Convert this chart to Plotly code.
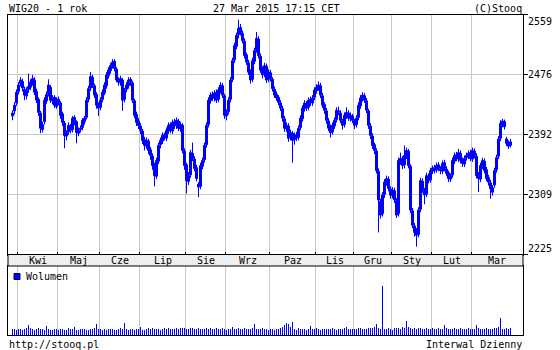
import pandas as pd
import plotly.graph_objects as go

# ---------------- data ----------------
holidays = ["2014-04-18", "2014-04-21", "2014-05-01", "2014-06-19", "2014-08-15",
            "2014-11-11", "2014-12-24", "2014-12-25", "2014-12-26", "2014-12-31",
            "2015-01-01", "2015-01-06"]
month_labels = ["Kwi", "Maj", "Cze", "Lip", "Sie", "Wrz", "Paz", "Lis", "Gru", "Sty", "Lut", "Mar"]
y_tick_vals = [2225.2, 2308.7, 2392.2, 2475.7, 2559.2]
y_tick_text = ["2225", "2309", "2392", "2476", "2559"]

opens = [
    2418, 2425, 2436, 2452, 2463, 2466, 2455, 2446, 2455, 2458, 2464,
    2468, 2452, 2441, 2422, 2399, 2410, 2439, 2449, 2458, 2439,
    2444, 2431, 2441, 2436, 2421, 2408, 2390, 2396, 2404, 2399,
    2416, 2410, 2394, 2399, 2402, 2410, 2416, 2441, 2457, 2472,
    2460, 2448, 2434, 2430, 2441, 2450, 2460, 2474, 2481, 2487,
    2494, 2483, 2469, 2464, 2468, 2441, 2455, 2460, 2469, 2464,
    2439, 2420, 2411, 2404, 2397, 2385, 2376, 2383, 2371, 2362,
    2350, 2334, 2355, 2378, 2383, 2392, 2387, 2397, 2406, 2397,
    2410, 2404, 2411, 2400, 2405, 2369, 2350, 2327, 2336, 2366,
    2358, 2346, 2323, 2320, 2348, 2357, 2378, 2406, 2439, 2448,
    2442, 2451, 2441, 2453, 2460, 2446, 2418, 2424, 2441, 2469,
    2496, 2515, 2531, 2541, 2533, 2522, 2503, 2492, 2480, 2469,
    2494, 2510, 2525, 2501, 2483, 2476, 2487, 2469, 2478, 2469,
    2455, 2448, 2444, 2436, 2428, 2414, 2400, 2404, 2388, 2394,
    2385, 2392, 2388, 2402, 2414, 2428, 2435, 2430, 2441, 2436,
    2444, 2453, 2457, 2460, 2446, 2434, 2425, 2411, 2402, 2396,
    2404, 2413, 2425, 2422, 2411, 2406, 2418, 2422, 2414, 2418,
    2411, 2406, 2416, 2432, 2442, 2446, 2439, 2425, 2404, 2390,
    2378, 2369, 2341, 2299, 2282, 2309, 2325, 2330, 2316, 2307,
    2314, 2300, 2282, 2355, 2358, 2350, 2362, 2369, 2348, 2286,
    2265, 2257, 2253, 2288, 2327, 2314, 2309, 2334, 2329, 2341,
    2346, 2343, 2350, 2344, 2341, 2353, 2344, 2339, 2330, 2336,
    2355, 2364, 2358, 2366, 2357, 2351, 2360, 2362, 2367, 2358,
    2369, 2362, 2336, 2330, 2348, 2355, 2343, 2332, 2325, 2318,
    2322, 2343, 2362, 2387, 2407, 2410, 2386, 2381, 2377,
]
highs = [
    2426, 2437, 2455, 2465, 2472, 2470, 2459, 2458, 2477, 2469, 2475,
    2472, 2456, 2444, 2425, 2410, 2444, 2452, 2469, 2461, 2447,
    2447, 2444, 2445, 2439, 2424, 2411, 2398, 2409, 2407, 2418,
    2419, 2412, 2402, 2405, 2415, 2418, 2444, 2460, 2479, 2475,
    2463, 2451, 2437, 2444, 2455, 2465, 2479, 2486, 2492, 2497,
    2497, 2486, 2472, 2474, 2471, 2457, 2465, 2472, 2472, 2467,
    2442, 2424, 2415, 2408, 2400, 2389, 2388, 2386, 2375, 2366,
    2353, 2360, 2381, 2388, 2395, 2395, 2402, 2409, 2409, 2413,
    2414, 2416, 2414, 2410, 2408, 2373, 2353, 2340, 2371, 2381,
    2362, 2350, 2326, 2353, 2360, 2381, 2409, 2444, 2451, 2452,
    2454, 2455, 2458, 2465, 2464, 2449, 2427, 2444, 2472, 2499,
    2520, 2534, 2552, 2546, 2537, 2526, 2506, 2496, 2483, 2499,
    2513, 2535, 2529, 2505, 2487, 2492, 2491, 2483, 2482, 2472,
    2459, 2452, 2447, 2440, 2432, 2418, 2409, 2408, 2399, 2397,
    2395, 2396, 2405, 2419, 2433, 2440, 2439, 2444, 2445, 2447,
    2458, 2462, 2466, 2464, 2450, 2437, 2429, 2415, 2406, 2409,
    2416, 2430, 2431, 2426, 2414, 2423, 2430, 2426, 2423, 2421,
    2414, 2419, 2437, 2447, 2451, 2450, 2443, 2428, 2408, 2394,
    2381, 2373, 2345, 2303, 2312, 2330, 2335, 2334, 2320, 2319,
    2318, 2304, 2360, 2367, 2362, 2377, 2374, 2372, 2351, 2290,
    2269, 2262, 2291, 2332, 2331, 2318, 2339, 2338, 2346, 2349,
    2350, 2353, 2354, 2348, 2356, 2357, 2348, 2342, 2338, 2360,
    2367, 2368, 2372, 2370, 2360, 2363, 2367, 2370, 2371, 2374,
    2373, 2366, 2340, 2353, 2360, 2359, 2347, 2336, 2329, 2322,
    2346, 2364, 2390, 2412, 2414, 2413, 2389, 2384, 2386,
]
lows = [
    2412, 2420, 2432, 2448, 2459, 2452, 2440, 2441, 2450, 2454, 2460,
    2447, 2436, 2418, 2394, 2395, 2406, 2435, 2445, 2436, 2434,
    2429, 2428, 2433, 2414, 2404, 2373, 2384, 2392, 2394, 2395,
    2405, 2380, 2390, 2395, 2398, 2406, 2413, 2437, 2453, 2457,
    2443, 2428, 2418, 2426, 2437, 2447, 2456, 2470, 2477, 2484,
    2480, 2465, 2460, 2460, 2425, 2437, 2451, 2456, 2460, 2436,
    2415, 2404, 2400, 2393, 2379, 2370, 2372, 2365, 2357, 2343,
    2320, 2330, 2351, 2373, 2379, 2384, 2383, 2393, 2394, 2393,
    2400, 2400, 2397, 2396, 2366, 2343, 2310, 2322, 2332, 2355,
    2341, 2327, 2305, 2316, 2344, 2353, 2374, 2402, 2435, 2439,
    2438, 2436, 2437, 2449, 2443, 2414, 2412, 2420, 2437, 2465,
    2492, 2511, 2526, 2530, 2519, 2498, 2489, 2475, 2463, 2465,
    2490, 2506, 2498, 2478, 2470, 2472, 2464, 2465, 2466, 2452,
    2443, 2439, 2433, 2425, 2410, 2396, 2396, 2382, 2384, 2353,
    2378, 2383, 2384, 2398, 2410, 2424, 2425, 2426, 2432, 2432,
    2440, 2449, 2453, 2443, 2429, 2421, 2407, 2397, 2388, 2392,
    2400, 2409, 2419, 2408, 2399, 2402, 2414, 2411, 2410, 2408,
    2400, 2402, 2412, 2428, 2438, 2436, 2422, 2400, 2386, 2372,
    2365, 2338, 2256, 2275, 2278, 2304, 2321, 2313, 2303, 2303,
    2297, 2276, 2278, 2350, 2344, 2345, 2358, 2345, 2283, 2262,
    2250, 2236, 2249, 2284, 2311, 2295, 2305, 2324, 2325, 2337,
    2338, 2339, 2341, 2337, 2337, 2341, 2334, 2326, 2326, 2332,
    2351, 2355, 2354, 2352, 2347, 2347, 2356, 2358, 2355, 2354,
    2359, 2331, 2312, 2326, 2344, 2338, 2327, 2321, 2303, 2307,
    2318, 2339, 2358, 2383, 2402, 2399, 2376, 2372, 2374,
]
closes = [
    2422, 2433, 2451, 2461, 2468, 2457, 2447, 2454, 2459, 2465, 2470,
    2451, 2440, 2423, 2401, 2406, 2440, 2448, 2461, 2440, 2443,
    2433, 2440, 2437, 2419, 2409, 2391, 2395, 2405, 2398, 2415,
    2409, 2395, 2398, 2401, 2412, 2415, 2440, 2456, 2473, 2461,
    2447, 2433, 2429, 2440, 2451, 2461, 2475, 2482, 2488, 2493,
    2484, 2468, 2465, 2470, 2440, 2454, 2461, 2468, 2465, 2440,
    2419, 2409, 2405, 2398, 2384, 2377, 2384, 2370, 2363, 2349,
    2335, 2356, 2377, 2384, 2391, 2388, 2398, 2405, 2398, 2409,
    2405, 2412, 2401, 2406, 2370, 2349, 2328, 2335, 2367, 2359,
    2345, 2331, 2319, 2349, 2356, 2377, 2405, 2440, 2447, 2443,
    2450, 2440, 2454, 2461, 2447, 2419, 2423, 2440, 2468, 2495,
    2516, 2530, 2540, 2534, 2523, 2502, 2493, 2479, 2468, 2495,
    2509, 2526, 2502, 2482, 2475, 2488, 2468, 2479, 2470, 2456,
    2447, 2443, 2437, 2429, 2415, 2401, 2405, 2387, 2395, 2384,
    2391, 2387, 2401, 2415, 2429, 2436, 2429, 2440, 2437, 2443,
    2454, 2458, 2461, 2447, 2433, 2426, 2412, 2401, 2395, 2405,
    2412, 2426, 2423, 2412, 2405, 2419, 2423, 2415, 2419, 2412,
    2405, 2415, 2433, 2443, 2447, 2440, 2426, 2405, 2391, 2377,
    2370, 2342, 2301, 2280, 2308, 2326, 2331, 2317, 2308, 2315,
    2301, 2280, 2356, 2359, 2349, 2363, 2370, 2349, 2287, 2266,
    2256, 2252, 2287, 2328, 2315, 2308, 2335, 2328, 2342, 2345,
    2342, 2349, 2345, 2342, 2352, 2345, 2338, 2331, 2335, 2356,
    2363, 2359, 2367, 2356, 2352, 2359, 2363, 2366, 2359, 2370,
    2363, 2335, 2331, 2349, 2356, 2342, 2331, 2326, 2317, 2312,
    2342, 2360, 2386, 2408, 2411, 2403, 2380, 2376, 2382,
]
volume = [
    28, 30, 27, 32, 29, 26, 31, 34, 50, 33,
    30, 27, 29, 35, 31, 28, 26, 45, 30, 27,
    25, 29, 31, 24, 28, 30, 26, 27, 33, 29,
    31, 38, 27, 25, 29, 30, 32, 24, 26, 30,
    28, 33, 55, 31, 29, 27, 30, 26, 28, 32,
    29, 25, 27, 30, 33, 28, 60, 31, 27, 29,
    30, 26, 28, 31, 40, 27, 25, 29, 33, 30,
    35, 28, 32, 30, 27, 31, 36, 29, 34, 30,
    32, 28, 35, 30, 33, 37, 34, 31, 29, 36,
    33, 30, 28, 35, 32, 29, 31, 34, 30, 36,
    32, 29, 33, 31, 28, 35, 30, 27, 32, 30,
    38, 31, 29, 33, 30, 28, 35, 32, 30, 29,
    33, 55, 31, 28, 30, 34, 29, 32, 27, 30,
    28, 26, 30, 32, 35, 40, 50, 60, 53, 40,
    65, 30, 27, 33, 29, 31, 28, 26, 30, 45,
    31, 28, 33, 30, 27, 32, 29, 31, 28, 30,
    33, 29, 27, 31, 30, 28, 34, 40, 30, 29,
    32, 30, 28, 33, 35, 31, 29, 30, 36, 33,
    34, 38, 55, 36, 30, 245, 32, 30, 34, 29,
    26, 35, 37, 33, 30, 38, 36, 70, 40, 33,
    31, 35, 30, 33, 37, 32, 30, 34, 31, 29,
    33, 30, 28, 35, 31, 32, 50, 33, 30, 29,
    31, 34, 30, 28, 33, 29, 31, 30, 35, 32,
    30, 29, 50, 33, 28, 31, 30, 34, 29, 32,
    30, 33, 36, 40, 85, 31, 28, 35, 30, 33,
]

# trading days (categories)
days = pd.bdate_range("2014-03-27", "2015-03-27")
days = days[~days.isin(pd.to_datetime(holidays))]
n = min(len(days), len(closes))
idx = list(range(n))
months = [d.month for d in days[:n]]
bounds = [i - 0.5 for i in range(1, n) if months[i] != months[i - 1]]

# ---------------- layout geometry (pixels) ----------------
W, H = 560, 350
PX_L, PX_R = 8, 523
MAIN_T, MAIN_B = 14.5, 254.5
BAND_B = 266
VOL_B = 335
DPX = 2.0                       # pixels per trading day (crisp)
X_FIRST = 12.5                  # pixel centre of the first candle
xr = [(PX_L - X_FIRST) / DPX, (PX_R - X_FIRST) / DPX]


def fx(p):
    return p / W


def fy(p):
    return 1 - p / H


BLUE = "#0000ff"
GRID = "#c8c8c8"
FONT = dict(family="DejaVu Sans Mono", size=10, color="#000000")

# candle geometry derived from OHLC
body_base = [min(o, c) for o, c in zip(opens[:n], closes[:n])]
body_len = [max(abs(c - o), 0.8) for o, c in zip(opens[:n], closes[:n])]
body_fill = ["#ffffff" if c >= o else BLUE for o, c in zip(opens[:n], closes[:n])]
wx, wy = [], []
for i in idx:
    wx += [i, i, None]
    wy += [lows[i], highs[i], None]

fig = go.Figure()
fig.add_trace(go.Scatter(
    x=wx, y=wy, mode="lines", line=dict(color=BLUE, width=1),
    showlegend=False, hoverinfo="skip", xaxis="x", yaxis="y",
))
fig.add_trace(go.Bar(
    x=idx, base=body_base, y=body_len, width=1.0,
    marker=dict(color=body_fill, line=dict(color=BLUE, width=1)),
    showlegend=False, hoverinfo="skip", xaxis="x", yaxis="y",
))
fig.add_trace(go.Bar(
    x=idx, y=volume[:n], width=0.5, marker=dict(color=BLUE, line=dict(width=0)),
    showlegend=False, hoverinfo="skip", xaxis="x2", yaxis="y3",
))

axis_common = dict(showline=True, linecolor="#000000", linewidth=1, mirror=True,
                   zeroline=False, fixedrange=True)

annotations = []
# month labels in the band
edges = bounds + [xr[1]]
for k, lab in enumerate(month_labels):
    if k + 1 < len(edges):
        c = (edges[k] + edges[k + 1]) / 2
        annotations.append(dict(x=c, xref="x", y=fy(260.5), yref="paper", text=lab,
                                showarrow=False, xanchor="center", yanchor="middle", font=FONT))
# y tick labels
shifts = [6, 0, 0, 0, -7.5]
for v, t, s in zip(y_tick_vals, y_tick_text, shifts):
    annotations.append(dict(x=fx(526), xref="paper", y=v, yref="y", yshift=s, text=t,
                            showarrow=False, xanchor="left", yanchor="middle", font=FONT))
# header / footer texts
annotations += [
    dict(x=fx(7), y=fy(8), text="WIG20 - 1 rok", xanchor="left"),
    dict(x=fx(276), y=fy(8), text="27 Mar 2015 17:15 CET", xanchor="center"),
    dict(x=fx(524), y=fy(8), text="(C)Stooq", xanchor="right"),
    dict(x=fx(7), y=fy(344), text="http://stooq.pl", xanchor="left"),
    dict(x=fx(524), y=fy(344), text="Interwal Dzienny", xanchor="right"),
    dict(x=fx(24), y=fy(276.5), text="Wolumen", xanchor="left"),
]
for a in annotations[-6:]:
    a.update(xref="paper", yref="paper", showarrow=False, yanchor="middle", font=FONT)

shapes = [
    dict(type="rect", xref="paper", yref="paper", x0=fx(PX_L), x1=fx(PX_R),
         y0=fy(BAND_B), y1=fy(MAIN_B), fillcolor="#eeeeee",
         line=dict(color="#000000", width=1), layer="above"),
    dict(type="rect", xref="paper", yref="paper", x0=fx(14), x1=fx(20),
         y0=fy(279.5), y1=fy(273.5), fillcolor=BLUE,
         line=dict(color="#000066", width=1), layer="above"),
]

fig.update_layout(
    width=W, height=H, margin=dict(l=0, r=0, t=0, b=0, pad=0),
    paper_bgcolor="#ffffff", plot_bgcolor="#ffffff",
    barmode="overlay", bargap=0,
    showlegend=False,
    xaxis=dict(domain=[fx(PX_L), fx(PX_R)], range=xr, anchor="y",
               tickmode="array", tickvals=bounds, ticks="inside", ticklen=3,
               tickcolor="#000000", showticklabels=False, showgrid=True,
               gridcolor=GRID, gridwidth=1, **axis_common),
    yaxis=dict(domain=[fy(MAIN_B), fy(MAIN_T)], range=[y_tick_vals[0], y_tick_vals[-1]],
               anchor="x", side="right", tickmode="array", tickvals=y_tick_vals,
               ticks="outside", ticklen=4, tickcolor="#000000", showticklabels=False,
               showgrid=True, gridcolor=GRID, gridwidth=1, **axis_common),
    yaxis2=dict(overlaying="y", anchor="x", side="left", range=[y_tick_vals[0], y_tick_vals[-1]],
                tickmode="array", tickvals=y_tick_vals, ticks="inside", ticklen=4,
                tickcolor="#000000", showticklabels=False, showgrid=False,
                showline=False, zeroline=False, fixedrange=True),
    xaxis2=dict(domain=[fx(PX_L), fx(PX_R)], range=xr, anchor="y3",
                tickmode="array", tickvals=bounds, ticks="", showticklabels=False,
                showgrid=True, gridcolor=GRID, gridwidth=1, **axis_common),
    yaxis3=dict(domain=[fy(VOL_B), fy(BAND_B)], range=[0, 345], anchor="x2",
                showticklabels=False, ticks="", showgrid=False, **axis_common),
    annotations=annotations,
    shapes=shapes,
)

fig.write_html("out.html", config={"displayModeBar": False, "staticPlot": True})
